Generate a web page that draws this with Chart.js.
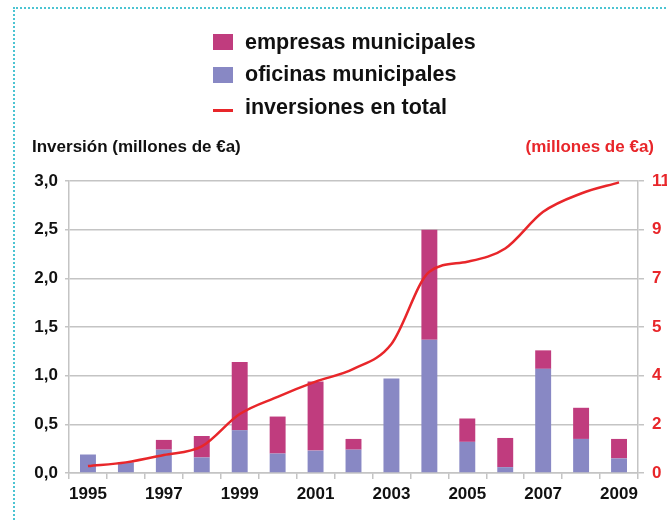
<!DOCTYPE html>
<html>
<head>
<meta charset="utf-8">
<script src="https://cdn.jsdelivr.net/npm/chart.js@4"></script>
<style>
  html, body { margin: 0; padding: 0; background: #fff; }
  body { width: 667px; height: 522px; position: relative; overflow: hidden;
         font-family: "Liberation Sans", Arial, sans-serif; font-weight: bold; }
  #frame { position: absolute; left: 13px; top: 7px; right: -10px; bottom: -10px;
           border-left: 2px dotted #4cc4d2; border-top: 2px dotted #4cc4d2; }
  #chart-box { position: absolute; left: 0; top: 0; width: 667px; height: 522px; }
  #legend { position: absolute; left: 213px; top: 26px; }
  .item { display: flex; align-items: center; height: 32.5px; font-size: 21.5px; color: #111; }
  .mark { width: 20px; height: 16px; margin-right: 12px; }
  .mark.line { height: 3px; margin-top: 6px; }
  .ytitle { position: absolute; top: 137px; font-size: 17px; }
</style>
</head>
<body>
<div id="frame"></div>
<div id="chart-box"><canvas id="inv-chart" width="667" height="522"></canvas></div>
<div id="legend"></div>
<div class="ytitle" style="left:32px;color:#111;">Inversión (millones de €a)</div>
<div class="ytitle" style="right:13px;color:#e8262a;">(millones de €a)</div>
<script>
const years = ['1995', '1996', '1997', '1998', '1999', '2000', '2001', '2002',
               '2003', '2004', '2005', '2006', '2007', '2008', '2009'];
const oficinas = [0.19, 0.11, 0.24, 0.16, 0.44, 0.20, 0.23, 0.24, 0.97, 1.37, 0.32, 0.06, 1.07, 0.35, 0.15];
const empresas = [0, 0, 0.10, 0.22, 0.70, 0.38, 0.71, 0.11, 0, 1.13, 0.24, 0.30, 0.19, 0.32, 0.20];
const inversionTotal = [0.26, 0.40, 0.68, 1.0, 2.22, 2.87, 3.44, 3.92, 4.86, 7.58, 7.96, 8.46, 9.84, 10.53, 10.95];
const rightTickLabels = ['0', '2', '4', '5', '7', '9', '11'];

const PINK = '#c03c7e';
const PURPLE = '#8888c4';
const RED = '#e8262a';
const GRID = '#c4c4c4';
const tickFont = { family: 'Liberation Sans', size: 17, weight: 'bold' };

const invCanvas = document.getElementById('inv-chart');
const invChart = new Chart(invCanvas, {
    type: 'bar',
    data: {
        labels: years,
        datasets: [{
            label: 'inversiones en total',
            type: 'line',
            data: inversionTotal,
            yAxisID: 'y1',
            borderColor: RED,
            backgroundColor: RED,
            borderWidth: 2.5,
            pointRadius: 0,
            cubicInterpolationMode: 'monotone',
            order: 0
        }, {
            label: 'oficinas municipales',
            data: oficinas,
            backgroundColor: PURPLE,
            stack: 's',
            order: 1
        }, {
            label: 'empresas municipales',
            data: empresas,
            backgroundColor: PINK,
            stack: 's',
            order: 1
        }]
    },
    options: {
        responsive: false,
        animation: false,
        layout: { padding: { top: 181, left: 0, right: 0, bottom: 0 } },
        datasets: { bar: { barPercentage: 0.84, categoryPercentage: 0.5 } },
        scales: {
            x: {
                stacked: true,
                afterFit: function (scale) { scale.height = 49; },
                border: { color: GRID, width: 1.5 },
                grid: { drawOnChartArea: false, tickLength: 6, color: GRID, lineWidth: 1.5, offset: true },
                ticks: {
                    autoSkip: false,
                    maxRotation: 0,
                    padding: 5,
                    color: '#111',
                    font: tickFont,
                    callback: function (value, index) {
                        return index % 2 === 0 ? years[index] : '';
                    }
                }
            },
            y: {
                stacked: true,
                min: 0,
                max: 3,
                afterFit: function (scale) { scale.width = 69; },
                border: { color: GRID, width: 1.5 },
                grid: { color: GRID, lineWidth: 1.5, tickLength: 4 },
                ticks: {
                    stepSize: 0.5,
                    padding: 7,
                    color: '#111',
                    font: tickFont,
                    callback: function (value) {
                        return value.toFixed(1).replace('.', ',');
                    }
                }
            },
            y1: {
                position: 'right',
                min: 0,
                max: 11,
                afterFit: function (scale) { scale.width = 29; },
                afterBuildTicks: function (scale) {
                    scale.ticks = rightTickLabels.map((t, i) => ({ value: 11 * i / 6 }));
                },
                border: { color: GRID, width: 1.5 },
                grid: { drawOnChartArea: false, color: GRID, lineWidth: 1.5, tickLength: 6 },
                ticks: {
                    padding: 8,
                    color: RED,
                    font: tickFont,
                    callback: function (value, index) {
                        return rightTickLabels[index];
                    }
                }
            }
        },
        plugins: {
            legend: { display: false },
            tooltip: { enabled: false }
        }
    }
});

// legend in the reference order
const legendBox = document.getElementById('legend');
[2, 1, 0].forEach(function (i) {
    const ds = invChart.data.datasets[i];
    const row = document.createElement('div');
    row.className = 'item';
    const mark = document.createElement('span');
    mark.className = ds.type === 'line' ? 'mark line' : 'mark';
    mark.style.background = ds.type === 'line' ? ds.borderColor : ds.backgroundColor;
    row.appendChild(mark);
    row.appendChild(document.createTextNode(ds.label));
    legendBox.appendChild(row);
});
</script>
</body>
</html>
